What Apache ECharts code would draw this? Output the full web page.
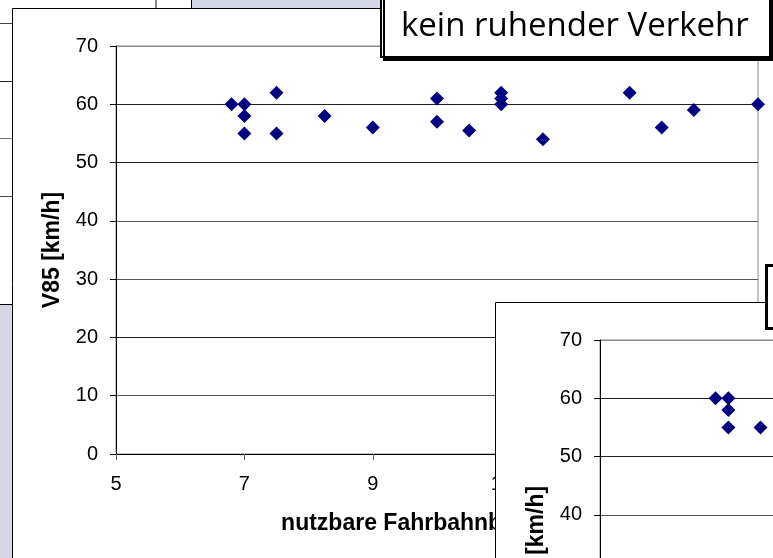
<!DOCTYPE html>
<html>
<head>
<meta charset="utf-8">
<script src="https://cdn.jsdelivr.net/npm/echarts@6/dist/echarts.min.js"></script>
<style>
  html, body { margin: 0; padding: 0; background: #fff; }
  #chart { width: 773px; height: 558px; }
</style>
</head>
<body>
<div id="chart"></div>
<script>
// nutzbare Fahrbahnbreite [m] / V85 [km/h] - kein ruhender Verkehr
var breite = [6.8, 7, 7, 7, 7.5, 7.5, 8.25, 9, 10, 10, 10.5, 11, 11, 11, 11.65, 13, 13.5, 14, 15];
var v85 = [60, 60, 58, 55, 62, 55, 58, 56, 61, 57, 55.5, 62, 61, 60, 54, 62, 56, 59, 60];
// zweites Diagramm (nur der sichtbare Ausschnitt)
var breite2 = [6.8, 7, 7, 7, 7.5];
var v85_2 = [60, 60, 58, 55, 55];
var xTicks = [5, 7, 9, 11, 13, 15];
var yTicks = [0, 10, 20, 30, 40, 50, 60, 70];
var titel = 'kein ruhender Verkehr';
var xName = 'nutzbare Fahrbahnbreite [m]';
var yName = 'V85 [km/h]';

var punkte = breite.map(function (b, i) { return [b, v85[i]]; });
var punkte2 = breite2.map(function (b, i) { return [b, v85_2[i]]; });

var myChart = echarts.init(document.getElementById('chart'));

var FONT = 'Liberation Sans';
var LAV = '#d3d6e3';

function xAxisOpt(gi, z) {
    return {
        type: 'value', gridIndex: gi, z: z,
        min: xTicks[0], max: xTicks[xTicks.length - 1], interval: 2,
        name: xName, nameLocation: 'middle', nameGap: 58,
        nameTextStyle: { fontFamily: FONT, fontSize: 23, fontWeight: 'bold', color: '#000' },
        axisLine: { lineStyle: { color: '#000', width: 1 } },
        axisTick: { show: true, length: 6, lineStyle: { color: '#666' } },
        axisLabel: { fontFamily: FONT, fontSize: 20, color: '#000', margin: 20 },
        splitLine: { show: false }
    };
}
function yAxisOpt(gi, z) {
    return {
        type: 'value', gridIndex: gi, z: z,
        min: yTicks[0], max: yTicks[yTicks.length - 1], interval: 10,
        name: yName, nameLocation: 'middle', nameGap: 52,
        nameTextStyle: { fontFamily: FONT, fontSize: 23, fontWeight: 'bold', color: '#000' },
        axisLine: { lineStyle: { color: '#000', width: 1 } },
        axisTick: { show: true, length: 6, lineStyle: { color: '#000' } },
        axisLabel: { fontFamily: FONT, fontSize: 20, color: '#000', margin: 18 },
        splitLine: { show: true, lineStyle: { color: ['#222', '#555', '#222', '#555', '#555', '#222', '#222', '#888'], width: 1 } }
    };
}

var option = {
    backgroundColor: '#fff',
    animation: false,
    title: {
        text: titel, left: 381, top: -14, z: 15,
        padding: [21, 18, 10, 20],
        backgroundColor: '#fff', borderColor: '#000', borderWidth: 2,
        shadowColor: '#000', shadowOffsetX: 3, shadowOffsetY: 3, shadowBlur: 0,
        textStyle: { fontFamily: 'Open Sans', fontSize: 33, fontWeight: 'normal', color: '#000', lineHeight: 40, width: 351 }
    },
    graphic: [
        // Hintergrund: Fenster dahinter
        { type: 'rect', z: 0, shape: { x: 192, y: 0, width: 189, height: 8 }, style: { fill: LAV } },
        { type: 'line', z: 0, shape: { x1: 191.5, y1: 0, x2: 191.5, y2: 8 }, style: { stroke: '#000', lineWidth: 1 } },
        { type: 'line', z: 0, shape: { x1: 156, y1: 0, x2: 156, y2: 8 }, style: { stroke: '#888', lineWidth: 2 } },
        { type: 'line', z: 0, shape: { x1: 0, y1: 23.5, x2: 12, y2: 23.5 }, style: { stroke: '#444', lineWidth: 1 } },
        { type: 'line', z: 0, shape: { x1: 0, y1: 81.5, x2: 12, y2: 81.5 }, style: { stroke: '#222', lineWidth: 1 } },
        { type: 'line', z: 0, shape: { x1: 0, y1: 138.5, x2: 12, y2: 138.5 }, style: { stroke: '#777', lineWidth: 1 } },
        { type: 'line', z: 0, shape: { x1: 0, y1: 196.5, x2: 12, y2: 196.5 }, style: { stroke: '#444', lineWidth: 1 } },
        { type: 'rect', z: 0, shape: { x: 0, y: 304, width: 12, height: 260 }, style: { fill: LAV } },
        { type: 'line', z: 0, shape: { x1: 0, y1: 304.5, x2: 12, y2: 304.5 }, style: { stroke: '#000', lineWidth: 1 } },
        // Diagrammrahmen
        { type: 'rect', z: 1, shape: { x: 12.5, y: 8.5, width: 900, height: 700 }, style: { fill: '#fff', stroke: '#000', lineWidth: 1 } },
        // zweites Diagramm davor
        { type: 'rect', z: 10, shape: { x: 495.5, y: 302.5, width: 400, height: 400 }, style: { fill: '#fff', stroke: '#000', lineWidth: 1 } },
        // Rahmen rechts
        { type: 'rect', z: 14, shape: { x: 766.5, y: 265.5, width: 40, height: 63 }, style: { fill: '#fff', stroke: '#000', lineWidth: 3 } }
    ],
    grid: [
        { left: 116, top: 46, width: 642, height: 408, z: 2, show: true, borderColor: '#888', borderWidth: 1, backgroundColor: 'transparent', outerBoundsMode: 'none', containLabel: false },
        { left: 600, top: 340, width: 642, height: 408, z: 11, show: true, borderColor: '#888', borderWidth: 1, backgroundColor: 'transparent', outerBoundsMode: 'none', containLabel: false }
    ],
    xAxis: [xAxisOpt(0, 3), xAxisOpt(1, 12)],
    yAxis: [yAxisOpt(0, 3), yAxisOpt(1, 12)],
    series: [
        {
            type: 'scatter', xAxisIndex: 0, yAxisIndex: 0, z: 4,
            symbol: 'diamond', symbolSize: 14,
            itemStyle: { color: '#000080', opacity: 1 },
            data: punkte
        },
        {
            type: 'scatter', xAxisIndex: 1, yAxisIndex: 1, z: 13,
            symbol: 'diamond', symbolSize: 14,
            itemStyle: { color: '#000080', opacity: 1 },
            data: punkte2
        }
    ]
};

myChart.setOption(option);
</script>
</body>
</html>
